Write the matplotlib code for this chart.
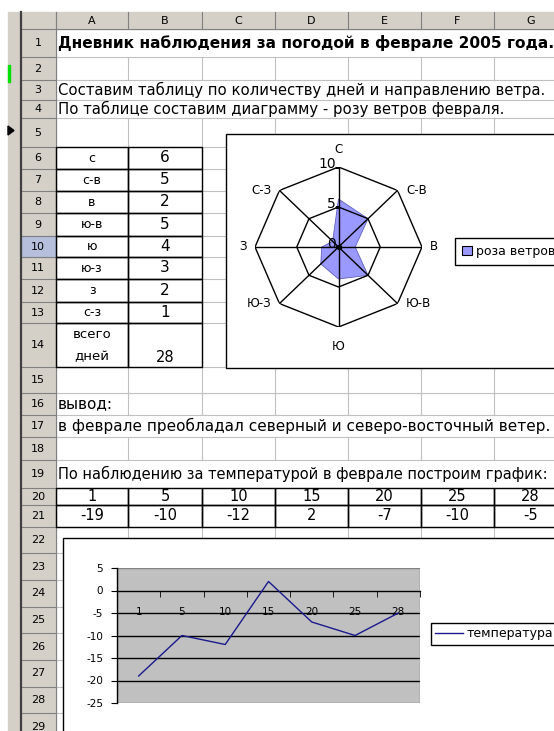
import numpy as np
import matplotlib.pyplot as plt
from matplotlib.patches import Rectangle, Polygon
from matplotlib.lines import Line2D

# данные листа
directions = ["с", "с-в", "в", "ю-в", "ю", "ю-з", "з", "с-з"]
wind_days = [6, 5, 2, 5, 4, 3, 2, 1]
total_days = 28
days = [1, 5, 10, 15, 20, 25, 28]
temps = [-19, -10, -12, 2, -7, -10, -5]
radar_ticks = [0, 5, 10]
temp_ticks = [-25, -20, -15, -10, -5, 0, 5]
col_letters = ["A", "B", "C", "D", "E", "F", "G"]

title = "Дневник наблюдения за погодой в феврале 2005 года."
line3 = "Составим таблицу по количеству дней и направлению ветра."
line4 = "По таблице составим диаграмму - розу ветров февраля."
line16 = "вывод:"
line17 = "в феврале преобладал северный и северо-восточный ветер."
line19 = "По наблюдению за температурой в феврале построим график:"

# геометрия листа в пикселях
W, H = 554, 731
col_x = [56, 128, 202, 275, 348, 421, 494, 567]
row_y = [29, 57, 80, 100, 118, 147, 169, 191, 213, 236, 257, 279, 302, 323,
         367, 393, 415, 437, 460, 488, 505, 527, 553, 580, 607, 633, 660, 687,
         713, 740]
overflow_rows = {1, 3, 4, 17, 19}
HDR = '#d4d0c8'
GRID = '#c0c0c0'


def box(x, y, w, h):
    return [x / W, 1 - (y + h) / H, w / W, h / H]


def row_mid(r):
    return (row_y[r - 1] + row_y[r]) / 2


def col_mid(c):
    return (col_x[c] + col_x[c + 1]) / 2


fig = plt.figure(figsize=(W / 100, H / 100), dpi=100)
bg = fig.add_axes([0, 0, 1, 1])
bg.set_xlim(0, W)
bg.set_ylim(H, 0)
bg.axis('off')

# сетка ячеек
for y in row_y:
    bg.plot([col_x[0], W], [y, y], color=GRID, lw=0.8, zorder=1)
for r in range(1, 30):
    if r in overflow_rows:
        continue
    for cx in col_x[1:]:
        bg.plot([cx, cx], [row_y[r - 1], row_y[r]], color=GRID, lw=0.8, zorder=1)

# левая панель
bg.add_patch(Rectangle((8, 12), 12, H, color=HDR, zorder=2))
bg.add_patch(Rectangle((8, 65), 1.5, 17, color='#00e000', zorder=3))
bg.add_patch(Polygon([(8, 126), (14, 130.5), (8, 135)], color='k', zorder=3))
bg.plot([20.5, 20.5], [12, H], color='#404040', lw=1.6, zorder=4)

# заголовки столбцов и строк
bg.add_patch(Rectangle((21, 12), W, 17, color=HDR, zorder=2))
bg.add_patch(Rectangle((21, 29), 35, H, color=HDR, zorder=2))
bg.add_patch(Rectangle((21, row_y[9]), 35, row_y[10] - row_y[9],
                       facecolor='#b6c0dc', edgecolor='#7080b0', lw=0.8, zorder=3))
for i, letter in enumerate(col_letters):
    bg.plot([col_x[i], col_x[i]], [12, 29], color='#808080', lw=0.8, zorder=3)
    bg.text(col_mid(i), 20.5, letter, ha='center', va='center', fontsize=8, zorder=4)
for r in range(1, 30):
    bg.plot([21, 56], [row_y[r], row_y[r]], color='#808080', lw=0.8, zorder=3)
    bg.text(38, row_mid(r), str(r), ha='center', va='center', fontsize=8, zorder=4)
bg.plot([21, W], [29, 29], color='#808080', lw=0.8, zorder=3)
bg.plot([56, 56], [12, H], color='#808080', lw=0.8, zorder=3)

# тексты
bg.text(58, row_mid(1), title, ha='left', va='center', fontsize=11.1,
        fontweight='bold', zorder=4)
for r, s, fs in [(3, line3, 10.7), (4, line4, 10.7), (16, line16, 11),
                 (17, line17, 11), (19, line19, 10.5)]:
    bg.text(58, row_mid(r), s, ha='left', va='center', fontsize=fs, zorder=4)

# таблица ветров
for i, (d, n) in enumerate(zip(directions, wind_days)):
    r = 6 + i
    for c in (0, 1):
        bg.add_patch(Rectangle((col_x[c], row_y[r - 1]), col_x[c + 1] - col_x[c],
                               row_y[r] - row_y[r - 1], fill=False, ec='k', lw=1, zorder=5))
    bg.text(col_mid(0), row_mid(r), d, ha='center', va='center', fontsize=9, zorder=5)
    bg.text(col_mid(1), row_mid(r), str(n), ha='center', va='center', fontsize=11, zorder=5)
for c in (0, 1):
    bg.add_patch(Rectangle((col_x[c], row_y[13]), col_x[c + 1] - col_x[c],
                           row_y[14] - row_y[13], fill=False, ec='k', lw=1, zorder=5))
bg.text(col_mid(0), row_y[13] + 11, "всего", ha='center', va='center', fontsize=9.5, zorder=5)
bg.text(col_mid(0), row_y[14] - 10, "дней", ha='center', va='center', fontsize=9.5, zorder=5)
bg.text(col_mid(1), row_y[14] - 10, str(total_days), ha='center', va='center',
        fontsize=10.5, zorder=5)

# таблица температур
for c in range(7):
    for r, v in [(20, days[c]), (21, temps[c])]:
        bg.add_patch(Rectangle((col_x[c], row_y[r - 1]), col_x[c + 1] - col_x[c],
                               row_y[r] - row_y[r - 1], fill=False, ec='k', lw=1, zorder=5))
        bg.text(col_mid(c), row_mid(r), str(v), ha='center', va='center',
                fontsize=10.5, zorder=5)

# рамки диаграмм
bg.add_patch(Rectangle((226, 134), W, 234, facecolor='white', ec='k', lw=1, zorder=6))
bg.add_patch(Rectangle((63, 538), W, H, facecolor='white', ec='k', lw=1, zorder=6))

# роза ветров
cx, cy, RX, RY = 338.5, 247, 83.5, 80
ax_r = fig.add_axes(box(cx - RX, cy - RY, 2 * RX, 2 * RY), projection='polar')
ax_r.set_aspect('auto')
ax_r.set_theta_zero_location('N')
ax_r.set_theta_direction(-1)
ax_r.set_ylim(0, 10)
ax_r.grid(False)
ax_r.set_xticks([])
ax_r.set_yticks([])
ax_r.spines['polar'].set_visible(False)
ax_r.patch.set_alpha(0)
ang = np.arange(len(directions)) * 2 * np.pi / len(directions)
ang_c = np.append(ang, ang[0])
vals_c = np.append(wind_days, wind_days[0])
ax_r.fill(ang_c, vals_c, facecolor='#9999ff', edgecolor='#6060c0', lw=0.6, zorder=1)
for rr in radar_ticks[1:]:
    ax_r.plot(ang_c, [rr] * len(ang_c), color='k', lw=1, zorder=2)
for a in ang:
    ax_r.plot([a, a], [0, radar_ticks[-1]], color='k', lw=1, zorder=2)
ax_r.plot([0], [0], 'ko', ms=3, zorder=3)
for a, d in zip(ang, directions):
    sx, cyy = np.sin(a), np.cos(a)
    if abs(sx) < 0.1:
        ha, va, off = 'center', ('bottom' if cyy > 0 else 'top'), (0, 8 if cyy > 0 else -9)
    else:
        ha, va, off = ('left' if sx > 0 else 'right'), 'center', (6 if sx > 0 else -6, 0)
    ax_r.annotate(d.upper(), xy=(a, radar_ticks[-1]), xytext=off, textcoords='offset points',
                  ha=ha, va=va, fontsize=8.5, annotation_clip=False)
for rr in radar_ticks:
    ax_r.plot([0], [rr], marker=0, color='k', ms=3, mew=1, zorder=3)
    ax_r.annotate(str(rr), xy=(0, rr), xytext=(-2, 2), textcoords='offset points',
                  ha='right', va='center', fontsize=10, annotation_clip=False)
fig.legend(handles=[Rectangle((0, 0), 1, 1, facecolor='#9999ff', edgecolor='k', lw=0.8)],
           labels=['роза ветров'], loc='upper left',
           bbox_to_anchor=(455 / W, 1 - 238 / H), fontsize=9, frameon=True,
           fancybox=False, edgecolor='k', borderaxespad=0, borderpad=0.55,
           handlelength=0.8, handleheight=0.8, handletextpad=0.3, framealpha=1)

# график температуры
ax_t = fig.add_axes(box(117, 568, 303, 135))
ax_t.set_facecolor('#c0c0c0')
x = np.arange(len(days))
ax_t.plot(x, temps, color='#1a1a8c', lw=1, zorder=3)
ax_t.set_xlim(-0.5, len(days) - 0.5)
ax_t.set_ylim(temp_ticks[0], temp_ticks[-1])
for v in temp_ticks[1:-1]:
    if v != 0:
        ax_t.axhline(v, color='k', lw=1, zorder=1)
ax_t.add_patch(Rectangle((0, 0), 1, 1, transform=ax_t.transAxes, fill=False,
                         ec='#808080', lw=1, zorder=1.5))
for s in ('top', 'right'):
    ax_t.spines[s].set_visible(False)
ax_t.spines['bottom'].set_position(('data', 0))
ax_t.spines['bottom'].set_linewidth(1)
ax_t.spines['left'].set_linewidth(1)
ax_t.set_yticks(temp_ticks)
ax_t.set_yticklabels([str(v) for v in temp_ticks], fontsize=7.5)
ax_t.tick_params(axis='y', direction='out', length=4, pad=6)
ax_t.set_xticks(x)
ax_t.set_xticklabels([str(d) for d in days], fontsize=7.5)
ax_t.set_xticks(np.arange(len(days) + 1) - 0.5, minor=True)
ax_t.tick_params(axis='x', which='major', length=0, pad=12)
ax_t.tick_params(axis='x', which='minor', direction='out', length=4)
fig.legend(handles=[Line2D([], [], color='#1a1a8c', lw=1)], labels=['температура'],
           loc='upper left', bbox_to_anchor=(431 / W, 1 - 623 / H), fontsize=9,
           frameon=True, fancybox=False, edgecolor='k', borderaxespad=0,
           borderpad=0.35, handlelength=2.2, handletextpad=0.3, framealpha=1)

fig.savefig('out.png', dpi=100)
